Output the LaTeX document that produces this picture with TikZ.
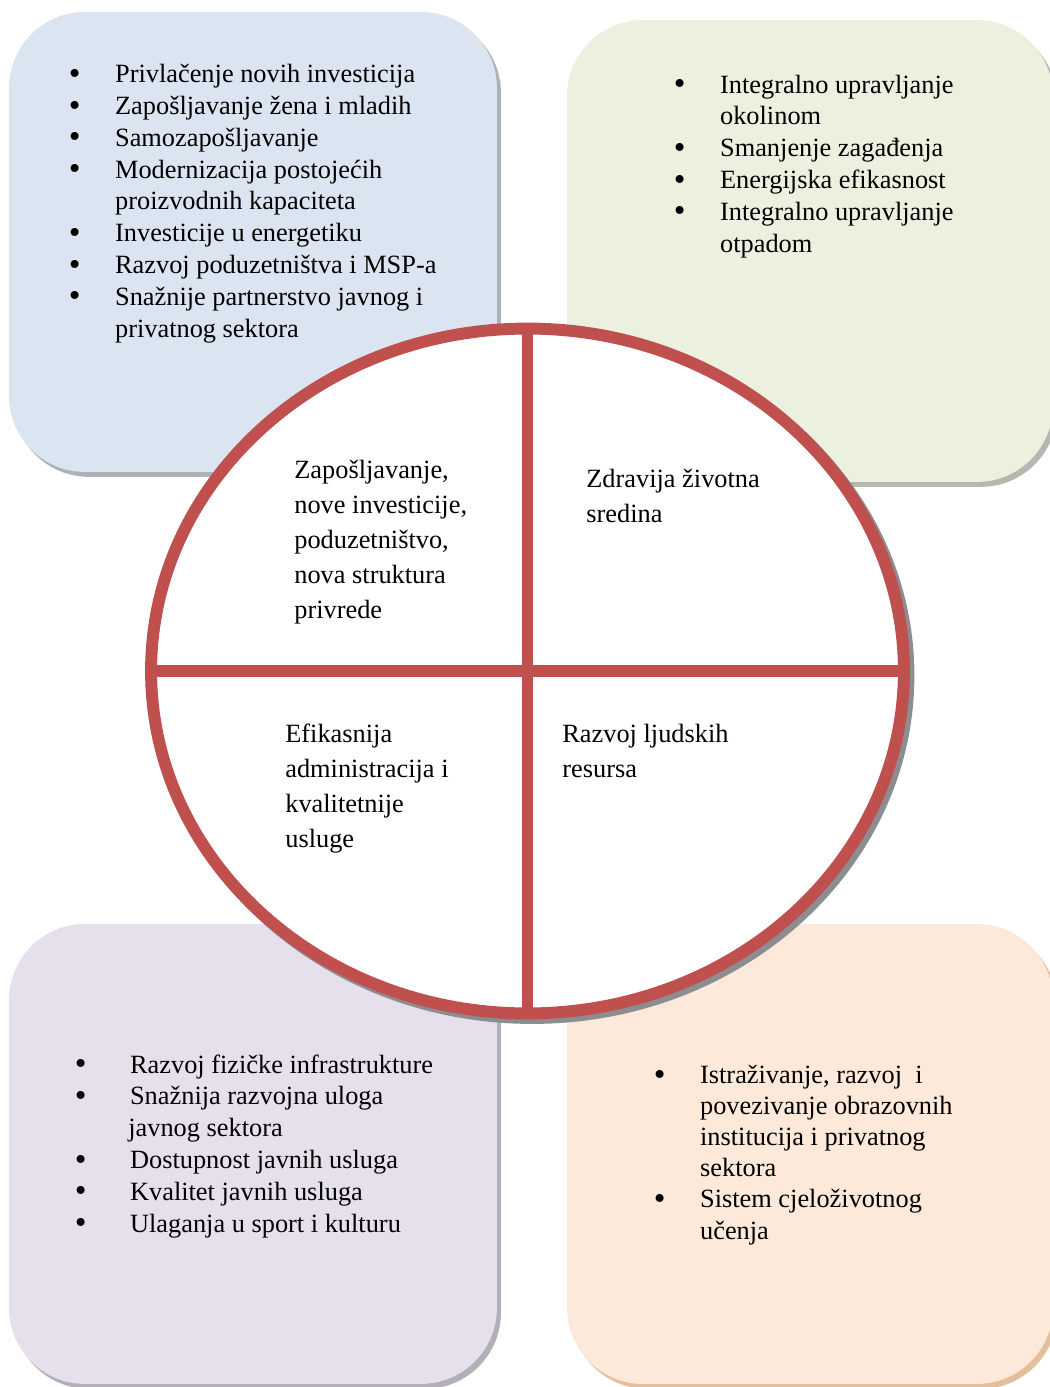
\documentclass[tikz,border=0pt]{standalone}
\usepackage{fontspec}
\setmainfont{Liberation Serif}
\usetikzlibrary{shapes.geometric,shadows}

\definecolor{econblue}{HTML}{DBE5F1}
\definecolor{envgreen}{HTML}{EBF1DE}
\definecolor{adminlilac}{HTML}{E5E0EC}
\definecolor{hrpeach}{HTML}{FDE9D9}
\definecolor{ringred}{HTML}{C0504D}
\definecolor{ringshadow}{HTML}{8C8C91}

\newcommand{\li}[1][26.4pt]{\makebox[#1][l]{\raisebox{-1pt}{\fontsize{19}{18}\selectfont\textbullet}}}
\newcommand{\ci}[1][26.4pt]{\hspace*{#1}}

\begin{document}
\begin{tikzpicture}[x=0.02cm,y=-0.02cm,
    corner/.style={rounded corners=1.52cm,minimum width=9.76cm,minimum height=9.2cm,inner sep=0pt,outer sep=0pt,anchor=north west},
    bullets/.style={anchor=base west,align=left,inner sep=0pt,font=\fontsize{15}{18.1}\selectfont},
    quarter/.style={anchor=base west,align=left,inner sep=0pt,font=\fontsize{15}{19.9}\selectfont}]
    \useasboundingbox (0,0) rectangle (1049,1387);
    % four corner boxes
    \node[corner,fill=econblue,drop shadow={shadow xshift=2.3pt,shadow yshift=-2.8pt,fill=econblue!50!gray,opacity=1}] (b1) at (9,12) {};
    \node[corner,fill=envgreen,minimum width=9.72cm,minimum height=9.24cm,drop shadow={shadow xshift=2.3pt,shadow yshift=-2.8pt,fill=envgreen!50!gray,opacity=1}] (b2) at (567,20) {};
    \node[corner,fill=adminlilac,minimum height=9.2cm,drop shadow={shadow xshift=2.3pt,shadow yshift=-2.8pt,fill=adminlilac!50!gray,opacity=1}] (b3) at (9,924) {};
    \node[corner,fill=hrpeach,minimum width=9.72cm,drop shadow={shadow xshift=2.3pt,shadow yshift=-2.8pt,fill=hrpeach!60!brown,opacity=1}] (b4) at (567,924) {};

    % the wheel in the middle
    \node[ellipse,draw=ringshadow,line width=6.8pt,minimum width=15.06cm,minimum height=13.7cm,inner sep=0pt,outer sep=0pt] (wshadow) at (532,675.5) {};
    \node[ellipse,draw=ringred,fill=white,line width=6.8pt,minimum width=15.06cm,minimum height=13.7cm,inner sep=0pt,outer sep=0pt] (wheel) at (527.5,671) {};
    \draw[ringred,line width=6.8pt] (wheel.north) -- (wheel.south);
    \draw[ringred,line width=6.8pt] (wheel.west) -- (wheel.east);

    % base of a node = baseline of its last line
    \node[quarter] (q1) at (294,618) {Zapošljavanje,\\nove investicije,\\poduzetništvo,\\nova struktura\\privrede};
    \node[quarter] (q2) at (586,522) {Zdravija životna\\sredina};
    \node[quarter] (q3) at (285,847) {Efikasnija\\administracija i\\kvalitetnije\\usluge};
    \node[quarter] (q4) at (562,777) {Razvoj ljudskih\\resursa};

    % bullet lists
    \node[bullets] (l1) at (68.4,337) {\li Privlačenje novih investicija\\
        \li Zapošljavanje žena i mladih\\
        \li Samozapošljavanje\\
        \li Modernizacija postojećih\\
        \ci proizvodnih kapaciteta\\
        \li Investicije u energetiku\\
        \li Razvoj poduzetništva i MSP-a\\
        \li Snažnije partnerstvo javnog i\\
        \ci privatnog sektora};
    \node[bullets] (l2) at (673.4,252) {\li Integralno upravljanje\\
        \ci okolinom\\
        \li Smanjenje zagađenja\\
        \li Energijska efikasnost\\
        \li Integralno upravljanje\\
        \ci otpadom};
    \node[bullets] (l3) at (74.4,1232) {\li[31.5pt]Razvoj fizičke infrastrukture\\
        \li[31.5pt]Snažnija razvojna uloga\\
        \ci[30.5pt]javnog sektora\\
        \li[31.5pt]Dostupnost javnih usluga\\
        \li[31.5pt]Kvalitet javnih usluga\\
        \li[31.5pt]Ulaganja u sport i kulturu};
    \node[bullets,font=\fontsize{15}{17.7}\selectfont] (l4) at (653.4,1239) {\li Istraživanje, razvoj \ i\\
        \ci povezivanje obrazovnih\\
        \ci institucija i privatnog\\
        \ci sektora\\
        \li Sistem cjeloživotnog\\
        \ci učenja};
\end{tikzpicture}
\end{document}
